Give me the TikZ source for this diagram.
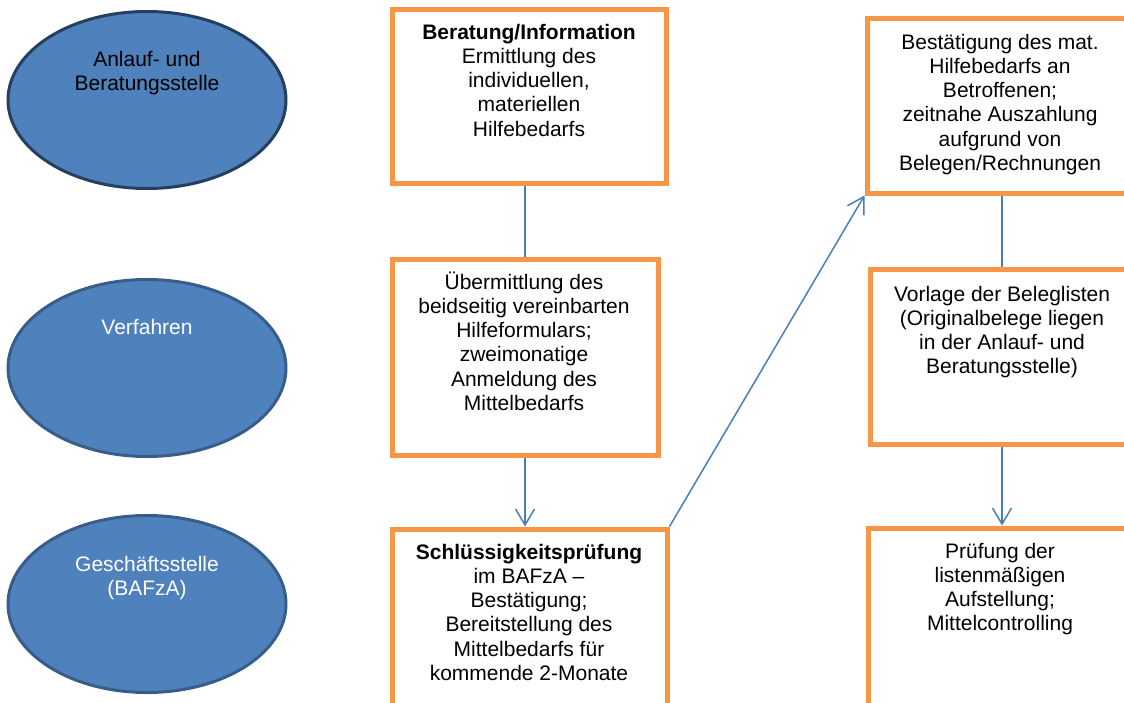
\documentclass[tikz,border=0pt]{standalone}
\usepackage{fontspec}
\setmainfont{Liberation Sans}
\usetikzlibrary{shapes.geometric,arrows.meta}
\definecolor{orng}{HTML}{F79646}
\definecolor{cblue}{HTML}{4A7EBB}
\definecolor{efill}{HTML}{4F81BD}
\definecolor{edark}{HTML}{243F60}
\definecolor{emid}{HTML}{385D8A}
\begin{document}
\begin{tikzpicture}[x=1pt,y=-1pt,
  box/.style={draw=orng, line width=5pt, fill=white, inner sep=0pt, rectangle},
  oval/.style={ellipse, fill=efill, draw=emid, line width=3pt, minimum width=278pt, minimum height=177pt, inner sep=0pt},
  txt/.style={anchor=base, align=center, inner sep=0pt, font=\fontsize{21}{24.3}\selectfont},
  conn/.style={draw=cblue, line width=1.5pt},
  arr/.style={conn, -{Straight Barb[length=16pt,width=19pt]}}]
\useasboundingbox (0,0) rectangle (1124,702);
\clip (0,0) rectangle (1124,702);

% ellipses
\node[oval, draw=edark] (e1) at (147,100) {};
\node[oval] (e2) at (147,368) {};
\node[oval] (e3) at (147,604) {};
\node[txt] (te1) at (147,90.3) {Anlauf- und\\Beratungsstelle};
\node[txt, text=white] (te2) at (147,334) {Verfahren};
\node[txt, text=white] (te3) at (147,595.3) {Geschäftsstelle\\(BAFzA)};

% middle column
\node[box, minimum width=274pt, minimum height=174pt] (b1) at (529,96) {};
\node[box, minimum width=266pt, minimum height=196pt] (b2) at (525,357) {};
\node[box, minimum width=275pt, minimum height=191pt] (b3) at (529.5,624.5) {};
\node[txt] (t1) at (529,136.2) {\textbf{Beratung/Information}\\Ermittlung des\\individuellen,\\materiellen\\Hilfebedarfs};
\node[txt] (t2) at (524,410.5) {Übermittlung des\\beidseitig vereinbarten\\Hilfeformulars;\\zweimonatige\\Anmeldung des\\Mittelbedarfs};
\node[txt] (t3) at (529,680.5) {\textbf{Schlüssigkeitsprüfung}\\im BAFzA --\\Bestätigung;\\Bereitstellung des\\Mittelbedarfs für\\kommende 2-Monate};

% right column
\node[box, minimum width=266pt, minimum height=175pt] (b4) at (1000,105.5) {};
\node[box, minimum width=264pt, minimum height=175pt] (b5) at (1002,356.5) {};
\node[box, minimum width=264pt, minimum height=192pt] (b6) at (1000,624) {};
\node[txt] (t4) at (1000,170.5) {Bestätigung des mat.\\Hilfebedarfs an\\Betroffenen;\\zeitnahe Auszahlung\\aufgrund von\\Belegen/Rechnungen};
\node[txt] (t5) at (1002,373.9) {Vorlage der Beleglisten\\(Originalbelege liegen\\in der Anlauf- und\\Beratungsstelle)};
\node[txt] (t6) at (1000,630.9) {Prüfung der\\listenmäßigen\\Aufstellung;\\Mittelcontrolling};

% connectors
\draw[conn] (b1.south -| b2.north) -- (b2.north);
\draw[arr] (b2.south) -- (b2.south |- b3.north);
\draw[arr] (b3.north east) -- (b4.south west);
\draw[conn] (b4.south -| b5.north) -- (b5.north);
\draw[arr] (b5.south) -- (b5.south |- b6.north);
\end{tikzpicture}
\end{document}
